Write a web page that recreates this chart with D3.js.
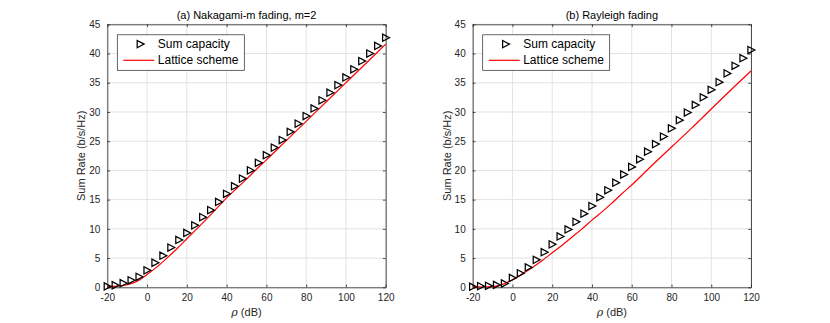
<!DOCTYPE html>
<html>
<head>
<meta charset="utf-8">
<script src="https://cdn.jsdelivr.net/npm/d3@7"></script>
<style>
  body { margin: 0; background: #fff; }
  text { font-family: "Liberation Sans", Arial, Helvetica, sans-serif; }
</style>
</head>
<body>
<div id="vis"></div>
<script>
const width = 830;
const height = 323;

// markers every 4 dB
const markerDb = [-20,-16,-12,-8,-4,0,4,8,12,16,20,24,28,32,36,40,44,48,52,56,60,64,68,72,76,80,84,88,92,96,100,104,108,112,116,120];
const nakagamiCapacity = [0.15,0.35,0.7,1.2,1.8,2.9,4.2,5.4,6.8,8.1,9.3,10.6,12.0,13.2,14.6,16.0,17.3,18.6,20.0,21.3,22.6,23.9,25.2,26.6,28.0,29.3,30.6,32.0,33.3,34.6,35.9,37.3,38.7,40.0,41.3,42.7];
const rayleighCapacity = [0.1,0.2,0.25,0.4,0.65,1.6,2.4,3.4,4.7,6.0,7.35,8.7,9.9,11.2,12.6,13.9,15.4,16.6,17.9,19.3,20.6,21.9,23.2,24.5,25.8,27.2,28.6,29.9,31.2,32.5,33.8,35.1,36.6,37.9,39.2,40.6];

// lattice curves
const lineDb = [-20,-15,-10,-5,0,5,10,15,20,25,30,35,40,45,50,55,60,70,80,90,100,110,120];
const nakagamiLattice = [0.15,0.2,0.45,1.05,2.2,3.5,5.0,6.6,8.3,10.0,11.7,13.5,15.3,16.9,18.5,20.2,21.8,25.1,28.4,31.7,35.0,38.3,41.6];
const rayleighLattice = [0.15,0.05,0.1,0.5,1.3,2.3,3.4,4.6,5.9,7.2,8.6,10.0,11.5,12.9,14.4,16.0,17.5,20.8,24.0,27.2,30.5,33.8,37.0];

const xTicks = [-20,0,20,40,60,80,100,120];
const yTicks = [0,5,10,15,20,25,30,35,40,45];
const legendLabels = ["Sum capacity", "Lattice scheme"];

const axisColor = "#262626";
const gridColor = "#e3e3e3";

const svg = d3.select("#vis")
  .append("svg")
  .attr("width", width)
  .attr("height", height);

const plotTop = 24.3, plotBottom = 287.3;

function drawPanel(left, right, title, capacity, lattice) {
  const x = d3.scaleLinear().domain([-20, 120]).range([left, right]);
  const y = d3.scaleLinear().domain([0, 45]).range([plotBottom, plotTop]);
  const g = svg.append("g");

  // grid
  g.selectAll(".gx").data(xTicks).join("line")
    .attr("x1", d => x(d)).attr("x2", d => x(d))
    .attr("y1", plotTop).attr("y2", plotBottom)
    .attr("stroke", gridColor).attr("stroke-width", 1);
  g.selectAll(".gy").data(yTicks).join("line")
    .attr("x1", left).attr("x2", right)
    .attr("y1", d => y(d)).attr("y2", d => y(d))
    .attr("stroke", gridColor).attr("stroke-width", 1);

  // axes (ticks inside, box on), plain hyphen minus like matlab
  const tl = 2.8;
  const fmt = d => String(d);
  const xb = g.append("g").attr("transform", `translate(0,${plotBottom})`)
    .call(d3.axisBottom(x).tickValues(xTicks).tickFormat(fmt).tickSizeInner(-tl).tickSizeOuter(0).tickPadding(7));
  const xt = g.append("g").attr("transform", `translate(0,${plotTop})`)
    .call(d3.axisTop(x).tickValues(xTicks).tickSizeInner(-tl).tickSizeOuter(0).tickFormat(""));
  const yl = g.append("g").attr("transform", `translate(${left},0)`)
    .call(d3.axisLeft(y).tickValues(yTicks).tickFormat(fmt).tickSizeInner(-tl).tickSizeOuter(0).tickPadding(7));
  const yr = g.append("g").attr("transform", `translate(${right},0)`)
    .call(d3.axisRight(y).tickValues(yTicks).tickSizeInner(-tl).tickSizeOuter(0).tickFormat(""));
  [xb, xt, yl, yr].forEach(a => {
    a.select(".domain").attr("stroke", axisColor).attr("stroke-width", 0.8);
    a.selectAll(".tick line").attr("stroke", axisColor).attr("stroke-width", 0.8);
    a.selectAll(".tick text").attr("fill", axisColor).style("font-size", "10px")
      .style("font-family", "'Liberation Sans', Arial, sans-serif");
  });

  // lattice line
  const line = d3.line().x(d => x(d[0])).y(d => y(d[1])).curve(d3.curveMonotoneX);
  g.append("path")
    .datum(lineDb.map((d, i) => [d, lattice[i]]))
    .attr("d", line)
    .attr("fill", "none")
    .attr("stroke", "#ff0000")
    .attr("stroke-width", 1.2);

  // sum capacity markers (right-pointing triangles)
  const tri = "M-3.1,-3.6L-3.1,3.6L3.8,0Z";
  g.selectAll(".mk").data(markerDb).join("path")
    .attr("d", tri)
    .attr("transform", (d, i) => `translate(${x(d)},${y(capacity[i])})`)
    .attr("fill", "none")
    .attr("stroke", "#000")
    .attr("stroke-width", 1.25);

  // title and labels
  g.append("text")
    .attr("x", (left + right) / 2).attr("y", 19)
    .attr("text-anchor", "middle")
    .style("font-size", "11px").attr("fill", "#000")
    .text(title);

  const xl = g.append("text")
    .attr("x", (left + right) / 2).attr("y", 316)
    .attr("text-anchor", "middle")
    .style("font-size", "11px").attr("fill", axisColor);
  xl.append("tspan").style("font-style", "italic").style("font-family", "'DejaVu Serif', serif").text("ρ");
  xl.append("tspan").text(" (dB)");

  g.append("text")
    .attr("transform", `translate(${left - 22},${(plotTop + plotBottom) / 2}) rotate(-90)`)
    .attr("text-anchor", "middle")
    .style("font-size", "11px").attr("fill", axisColor)
    .text("Sum Rate (b/s/Hz)");

  // legend
  const lx = left + 10, ly = plotTop + 10.5;
  const lg = g.append("g").attr("transform", `translate(${lx},${ly})`);
  lg.append("rect")
    .attr("width", 127).attr("height", 35.5)
    .attr("fill", "#fff").attr("stroke", axisColor).attr("stroke-width", 0.7);
  lg.append("path").attr("d", tri)
    .attr("transform", "translate(23,9.3)")
    .attr("fill", "none").attr("stroke", "#000").attr("stroke-width", 1.25);
  lg.append("line")
    .attr("x1", 6).attr("x2", 37).attr("y1", 25.5).attr("y2", 25.5)
    .attr("stroke", "#ff0000").attr("stroke-width", 1.2);
  lg.selectAll(".lt").data(legendLabels).join("text")
    .attr("x", 40.5).attr("y", (d, i) => 13.5 + i * 16.2)
    .style("font-size", "12px").attr("fill", "#000")
    .text(d => d);
}

drawPanel(107.3, 385.7, "(a) Nakagami-m fading, m=2", nakagamiCapacity, nakagamiLattice);
drawPanel(472.7, 751, "(b) Rayleigh fading", rayleighCapacity, rayleighLattice);
</script>
</body>
</html>
